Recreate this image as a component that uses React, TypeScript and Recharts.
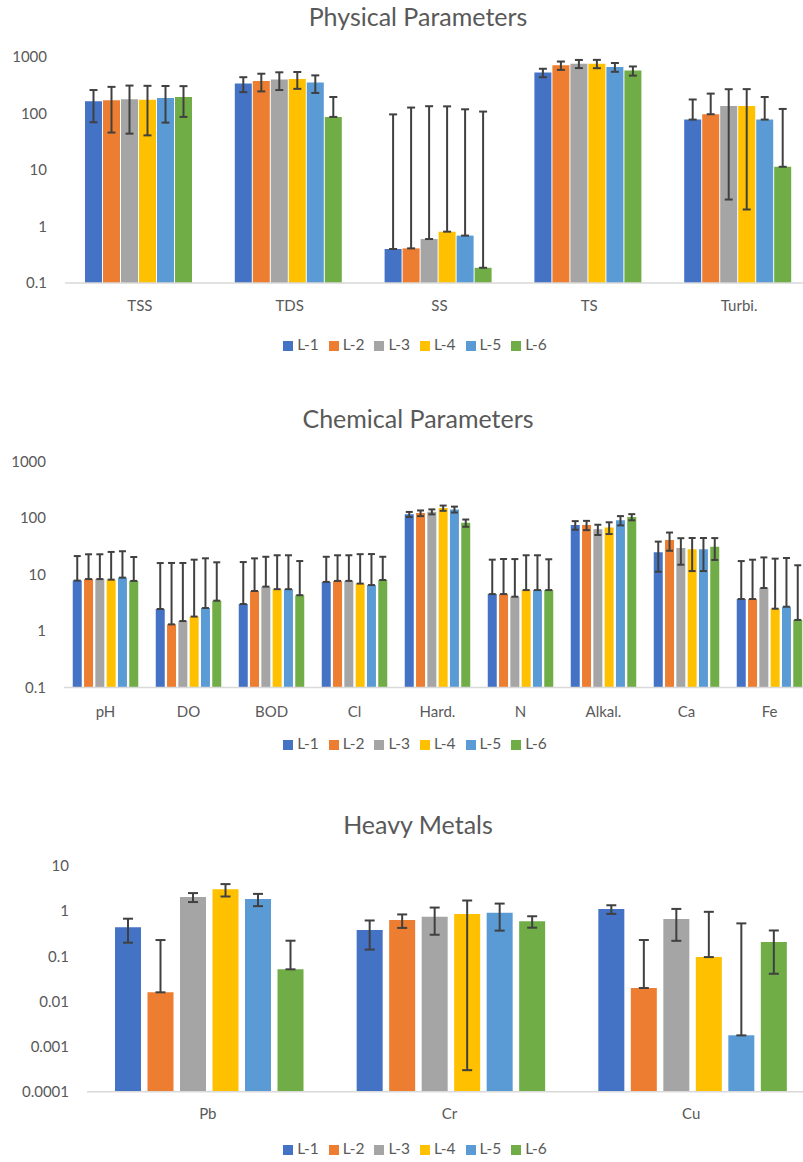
import React from "react";
import { BarChart, Bar, XAxis, YAxis, ErrorBar, Legend } from "recharts";

const SERIES = ["L-1", "L-2", "L-3", "L-4", "L-5", "L-6"];
const COLORS = ["#4472C4", "#ED7D31", "#A5A5A5", "#FFC000", "#5B9BD5", "#70AD47"];

// Physical parameters
const physCats = ["TSS", "TDS", "SS", "TS", "Turbi."];
const physValues = [
  [165, 339, 0.4, 529, 78],
  [171, 376, 0.41, 711, 97],
  [178, 398, 0.6, 762, 136],
  [175, 408, 0.81, 762, 136],
  [188, 352, 0.69, 665, 78],
  [196, 87, 0.186, 574, 11.4],
];
const physErrors = [
  [95, 100, 96, 90, 99],
  [125, 130, 127, 120, 128],
  [134, 138, 134, 125, 133],
  [134, 135, 133, 128, 134],
  [119, 121, 118, 118, 118],
  [109, 109, 108, 106, 109],
];
const physTicks = [0.1, 1, 10, 100, 1000];

// Chemical parameters
const chemCats = ["pH", "DO", "BOD", "Cl", "Hard.", "N", "Alkal.", "Ca", "Fe"];
const chemValues = [
  [7.8, 2.45, 3.0, 7.4, 116, 4.5, 75, 24.7, 3.68],
  [8.3, 1.31, 5.1, 7.7, 122, 4.5, 75, 40.8, 3.68],
  [8.3, 1.5, 6.1, 7.7, 129, 4.05, 63, 29.4, 5.77],
  [8.1, 1.8, 5.5, 6.9, 150, 5.3, 68, 27.9, 2.48],
  [8.8, 2.55, 5.5, 6.5, 142, 5.3, 91, 27.9, 2.69],
  [7.7, 3.44, 4.3, 8.0, 82, 5.3, 104, 31.1, 1.57],
];
const chemErrors = [
  [13.4, 13.5, 13.6, 13.2, 12, 13.8, 13, 13.5, 13.6],
  [14.5, 14.7, 14.2, 14.2, 14, 14.3, 14, 14.5, 14.6],
  [14.5, 14.5, 14.5, 14.2, 13, 14.7, 13, 14.5, 14.3],
  [17, 16.5, 16.4, 16, 16, 16.6, 16, 16.4, 16.6],
  [17, 16.8, 16.4, 16.5, 17, 16.6, 17, 16.4, 16.9],
  [12.7, 13, 13, 12.6, 12, 13.3, 13, 13, 13],
];
const chemTicks = [0.1, 1, 10, 100, 1000];

// Heavy metals
const metalCats = ["Pb", "Cr", "Cu"];
const metalValues = [
  [0.44, 0.381, 1.11],
  [0.0159, 0.635, 0.0198],
  [2.05, 0.75, 0.67],
  [3.04, 0.86, 0.096],
  [1.85, 0.92, 0.00177],
  [0.0514, 0.6, 0.207],
];
const metalErrors = [
  [0.24, 0.24, 0.24],
  [0.213, 0.21, 0.21],
  [0.46, 0.45, 0.45],
  [0.93, 0.8597, 0.87],
  [0.56, 0.55, 0.534],
  [0.17, 0.17, 0.166],
];
const metalTicks = [0.0001, 0.001, 0.01, 0.1, 1, 10];

const FONT = "Lato, 'Open Sans', sans-serif";
const TEXT = "#595959";

// like Excel on a log axis: a lower whisker that would go <= 0 is dropped
function buildRows(cats: string[], values: number[][], errors: number[][]) {
  return cats.map((cat, i) => {
    const row: any = { cat };
    values.forEach((vals, s) => {
      const e = errors[s][i];
      row[`v${s}`] = vals[i];
      row[`e${s}`] = [vals[i] - e > 0 ? e : 0, e];
    });
    return row;
  });
}

type PanelProps = {
  title: string;
  top: number;
  height: number;
  titleTop: number;
  rows: any[];
  ticks: number[];
  margin: { top: number; right: number; bottom: number; left: number };
  yWidth: number;
  catGap: number;
  barGap: number;
  cap: number;
  xLabelGap: number;
  legendTop: number;
};

function Panel(p: PanelProps) {
  return (
    <>
      <div
        style={{
          position: "absolute",
          top: p.titleTop,
          left: 0,
          width: 836,
          textAlign: "center",
          fontFamily: FONT,
          fontSize: 25,
          lineHeight: "30px",
          color: TEXT,
        }}
      >
        {p.title}
      </div>
      <div style={{ position: "absolute", top: p.top, left: 0 }}>
        <BarChart
          width={830}
          height={p.height}
          data={p.rows}
          margin={p.margin}
          barCategoryGap={p.catGap}
          barGap={p.barGap}
        >
          <XAxis
            dataKey="cat"
            height={30}
            tickLine={false}
            tickSize={0}
            tickMargin={p.xLabelGap}
            axisLine={{ stroke: "#D9D9D9", strokeWidth: 1.5 }}
            tick={{ fill: TEXT, fontSize: 15, fontFamily: FONT }}
          />
          <YAxis
            scale="log"
            type="number"
            domain={[p.ticks[0], p.ticks[p.ticks.length - 1]]}
            ticks={p.ticks}
            allowDataOverflow
            width={p.yWidth}
            axisLine={false}
            tickLine={false}
            tickSize={0}
            tickMargin={18}
            interval={0}
            tickFormatter={(v) => String(v)}
            tick={{ fill: TEXT, fontSize: 15, fontFamily: FONT }}
          />
          <Legend
            layout="horizontal"
            verticalAlign="middle"
            align="center"
            iconType="square"
            iconSize={10}
            wrapperStyle={{ top: p.legendTop, left: 0, width: 840, fontFamily: FONT, fontSize: 15.5 }}
            formatter={(v) => <span style={{ color: TEXT }}>{v}</span>}
          />
          {SERIES.map((name, s) => (
            <Bar key={name} dataKey={`v${s}`} name={name} fill={COLORS[s]} isAnimationActive={false}>
              <ErrorBar
                dataKey={`e${s}`}
                direction="y"
                width={p.cap}
                stroke="#404040"
                strokeWidth={2}
                isAnimationActive={false}
              />
            </Bar>
          ))}
        </BarChart>
      </div>
    </>
  );
}

export default function App() {
  return (
    <div
      style={{
        position: "absolute",
        left: 0,
        top: 0,
        width: 803,
        height: 1162,
        overflow: "hidden",
        background: "#fff",
      }}
    >
      <Panel
        title="Physical Parameters"
        titleTop={1}
        top={0}
        height={370}
        rows={buildRows(physCats, physValues, physErrors)}
        ticks={physTicks}
        margin={{ top: 57, right: 16, bottom: 57, left: 0 }}
        yWidth={65}
        catGap={20}
        barGap={1}
        cap={4}
        xLabelGap={17}
        legendTop={335}
      />
      <Panel
        title="Chemical Parameters"
        titleTop={403}
        top={400}
        height={370}
        rows={buildRows(chemCats, chemValues, chemErrors)}
        ticks={chemTicks}
        margin={{ top: 61.5, right: 19, bottom: 52.5, left: 0 }}
        yWidth={64}
        catGap={8.75}
        barGap={2.3}
        cap={3.5}
        xLabelGap={19}
        legendTop={334}
      />
      <Panel
        title="Heavy Metals"
        titleTop={809}
        top={800}
        height={362}
        rows={buildRows(metalCats, metalValues, metalErrors)}
        ticks={metalTicks}
        margin={{ top: 66, right: 18, bottom: 40.3, left: 0 }}
        yWidth={87}
        catGap={28}
        barGap={6.5}
        cap={5}
        xLabelGap={17}
        legendTop={339}
      />
    </div>
  );
}
